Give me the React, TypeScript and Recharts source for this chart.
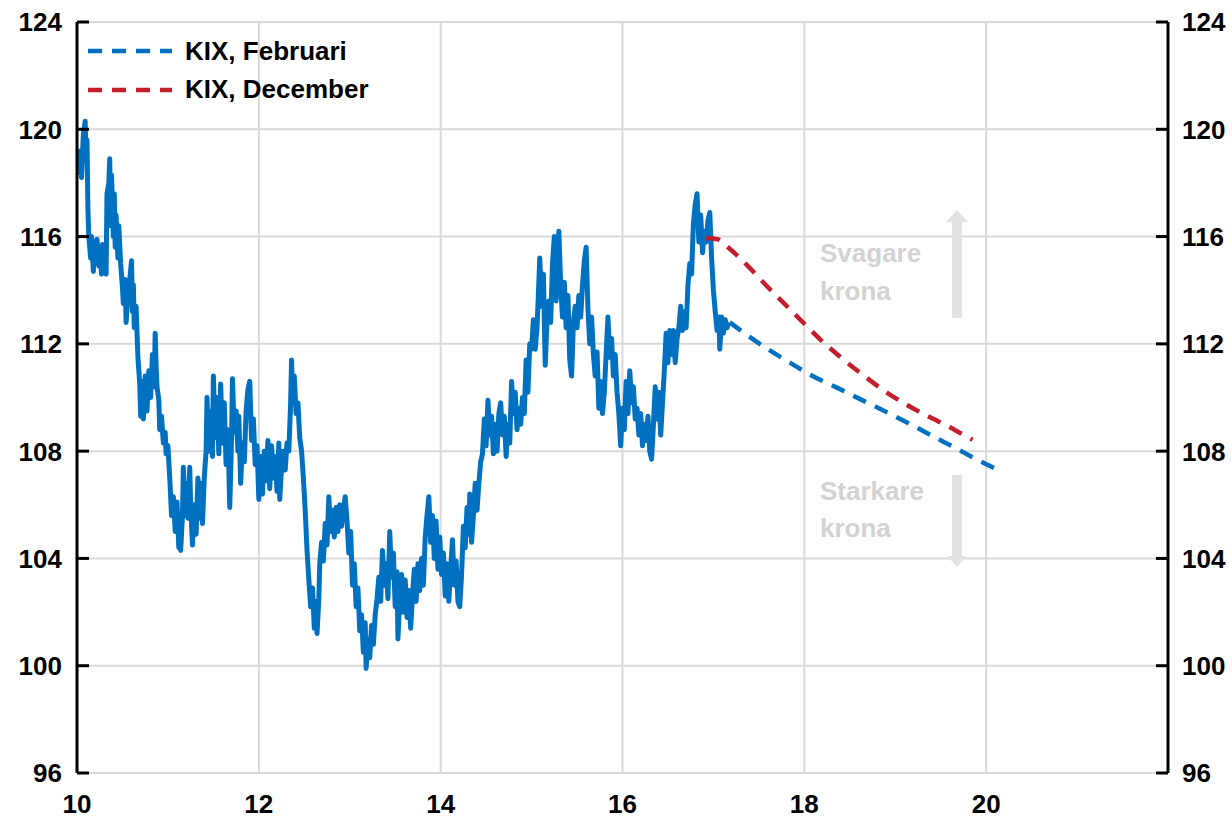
import React from "react";
import { LineChart, Line, XAxis, YAxis, CartesianGrid } from "recharts";

const FONT = '"Liberation Sans", Arial, sans-serif';
const BLUE = "#0070C0";
const RED = "#C21E2B";

// KIX history (year, index)
const kix2010: [number, number][] = [
  [10.02, 118.3], [10.04, 119.2], [10.05, 118.2], [10.07, 119.8], [10.09, 120.3], [10.10, 118.8], [10.11, 119.6], [10.12, 117.0], [10.13, 116.0], [10.15, 115.2], [10.16, 116.0], [10.18, 114.7], [10.19, 115.8], [10.21, 115.0], [10.22, 115.9], [10.24, 114.9], [10.25, 115.5], [10.27, 114.6], [10.28, 115.7], [10.30, 115.0], [10.32, 114.6], [10.33, 117.6], [10.35, 118.0], [10.36, 118.9], [10.37, 116.4], [10.38, 118.3], [10.40, 116.0], [10.41, 117.6], [10.42, 115.6], [10.43, 116.8], [10.45, 115.2], [10.46, 116.4], [10.48, 115.0], [10.50, 114.1], [10.51, 113.5], [10.53, 114.4], [10.54, 112.8], [10.56, 113.8], [10.58, 114.4], [10.60, 115.1], [10.61, 113.2], [10.62, 114.2], [10.63, 112.6], [10.65, 113.4], [10.67, 111.5], [10.69, 110.5], [10.70, 109.3], [10.72, 110.6], [10.73, 109.2], [10.75, 110.8], [10.77, 109.5], [10.79, 111.0], [10.81, 110.0], [10.83, 111.6], [10.85, 110.4], [10.86, 112.4], [10.87, 111.2], [10.88, 110.4], [10.90, 109.9], [10.91, 108.8], [10.93, 109.3], [10.95, 108.3], [10.97, 108.7], [10.98, 107.9],
];
const kix2011: [number, number][] = [
  [11.00, 108.2], [11.02, 107.0], [11.04, 105.6], [11.06, 106.3], [11.08, 105.0], [11.10, 106.1], [11.12, 104.4], [11.13, 105.3], [11.14, 104.3], [11.16, 105.6], [11.17, 107.4], [11.19, 105.6], [11.20, 106.8], [11.22, 105.5], [11.24, 107.4], [11.25, 106.0], [11.27, 104.5], [11.29, 106.0], [11.31, 104.9], [11.33, 107.0], [11.34, 105.5], [11.36, 106.8], [11.38, 105.3], [11.40, 107.0], [11.42, 108.0], [11.43, 110.0], [11.45, 108.0], [11.47, 109.5], [11.49, 107.8], [11.50, 110.8], [11.52, 108.5], [11.54, 110.0], [11.56, 107.9], [11.58, 110.5], [11.60, 108.3], [11.62, 109.8], [11.64, 107.5], [11.66, 108.8], [11.68, 105.9], [11.70, 108.5], [11.71, 110.7], [11.73, 108.7], [11.75, 109.5], [11.77, 108.0], [11.78, 109.3], [11.80, 106.8], [11.82, 108.3], [11.84, 107.6], [11.86, 109.5], [11.88, 110.3], [11.90, 110.6], [11.92, 108.4], [11.94, 109.2], [11.96, 107.5], [11.98, 108.2],
];
const kix2012: [number, number][] = [
  [12.00, 106.2], [12.02, 107.8], [12.04, 106.4], [12.06, 108.0], [12.08, 106.9], [12.10, 108.4], [12.12, 106.6], [12.14, 108.2], [12.16, 107.0], [12.18, 107.8], [12.20, 106.5], [12.22, 108.3], [12.23, 106.2], [12.25, 107.4], [12.27, 108.0], [12.29, 107.3], [12.31, 108.3], [12.33, 108.0], [12.35, 109.8], [12.36, 111.4], [12.37, 110.2], [12.39, 110.8], [12.41, 109.4], [12.43, 109.8], [12.45, 108.5], [12.47, 108.0], [12.49, 107.0], [12.51, 105.8], [12.53, 104.3], [12.55, 103.2], [12.57, 102.2], [12.59, 102.9], [12.61, 101.4], [12.63, 102.4], [12.64, 101.2], [12.66, 102.5], [12.67, 103.8], [12.69, 104.6], [12.71, 103.9], [12.73, 105.3], [12.75, 104.5], [12.77, 106.3], [12.79, 105.0], [12.81, 105.8], [12.83, 104.8], [12.85, 105.9], [12.87, 105.0], [12.89, 106.0], [12.91, 105.2], [12.93, 105.8], [12.95, 106.3], [12.97, 105.4], [12.99, 104.2],
];
const kix2013: [number, number][] = [
  [13.01, 105.0], [13.03, 103.0], [13.05, 103.8], [13.07, 102.2], [13.09, 102.9], [13.11, 101.3], [13.13, 101.9], [13.15, 100.5], [13.17, 101.6], [13.18, 99.9], [13.20, 101.0], [13.22, 100.3], [13.24, 101.5], [13.26, 100.8], [13.28, 101.9], [13.30, 102.5], [13.32, 103.3], [13.34, 102.4], [13.36, 104.3], [13.38, 103.0], [13.40, 103.8], [13.42, 102.5], [13.44, 105.0], [13.46, 103.3], [13.48, 104.2], [13.50, 102.2], [13.52, 103.5], [13.53, 101.0], [13.55, 102.5], [13.57, 103.4], [13.59, 102.0], [13.61, 103.2], [13.63, 101.8], [13.65, 102.8], [13.67, 101.4], [13.69, 102.6], [13.71, 103.6], [13.73, 102.4], [13.75, 103.8], [13.77, 102.8], [13.79, 104.0], [13.81, 103.0], [13.83, 104.8], [13.85, 105.6], [13.87, 106.3], [13.89, 104.6], [13.91, 105.6], [13.93, 104.0], [13.95, 105.4], [13.97, 103.6], [13.99, 104.8],
];
const kix2014: [number, number][] = [
  [14.01, 103.4], [14.03, 104.2], [14.05, 102.6], [14.07, 103.8], [14.09, 102.4], [14.11, 103.6], [14.13, 104.7], [14.15, 103.0], [14.17, 103.9], [14.19, 102.4], [14.21, 102.2], [14.23, 103.4], [14.25, 105.2], [14.27, 104.4], [14.29, 105.9], [14.31, 104.9], [14.32, 106.4], [14.34, 104.6], [14.36, 105.6], [14.38, 106.8], [14.40, 105.8], [14.42, 106.8], [14.44, 107.6], [14.46, 107.9], [14.48, 109.2], [14.50, 108.2], [14.52, 109.9], [14.54, 108.6], [14.56, 109.3], [14.58, 107.9], [14.60, 109.0], [14.62, 108.0], [14.64, 109.4], [14.66, 109.8], [14.68, 108.6], [14.70, 109.3], [14.72, 107.8], [14.74, 109.0], [14.76, 108.3], [14.78, 110.6], [14.80, 109.4], [14.82, 110.2], [14.84, 108.8], [14.86, 109.6], [14.88, 109.0], [14.90, 110.0], [14.92, 109.4], [14.94, 111.4], [14.96, 110.2], [14.98, 112.0],
];
const kix2015: [number, number][] = [
  [15.00, 111.8], [15.02, 112.9], [15.04, 111.8], [15.06, 112.6], [15.08, 114.3], [15.09, 115.2], [15.11, 113.4], [15.13, 114.6], [15.15, 111.2], [15.17, 112.9], [15.19, 113.6], [15.21, 112.8], [15.23, 115.0], [15.25, 116.0], [15.27, 113.6], [15.29, 115.2], [15.30, 116.2], [15.32, 114.2], [15.34, 113.0], [15.36, 114.3], [15.38, 112.6], [15.40, 113.8], [15.42, 111.4], [15.44, 110.8], [15.46, 112.8], [15.48, 113.4], [15.50, 112.6], [15.52, 113.8], [15.54, 113.0], [15.56, 114.2], [15.58, 115.1], [15.60, 115.6], [15.62, 113.3], [15.64, 112.0], [15.66, 113.0], [15.68, 111.6], [15.70, 110.8], [15.72, 111.7], [15.74, 109.6], [15.76, 110.6], [15.78, 109.4], [15.80, 110.2], [15.82, 111.6], [15.84, 113.0], [15.86, 111.5], [15.88, 112.2], [15.90, 110.8], [15.92, 111.6], [15.94, 110.2], [15.96, 109.4], [15.98, 108.2],
];
const kix2016: [number, number][] = [
  [16.00, 109.6], [16.02, 108.8], [16.04, 110.6], [16.06, 109.4], [16.08, 111.0], [16.10, 109.8], [16.12, 110.4], [16.14, 109.2], [16.16, 109.6], [16.18, 108.6], [16.20, 109.4], [16.22, 108.2], [16.24, 109.0], [16.26, 108.4], [16.28, 109.3], [16.30, 108.0], [16.32, 107.7], [16.34, 109.0], [16.36, 110.4], [16.38, 109.2], [16.40, 110.2], [16.42, 108.6], [16.44, 109.8], [16.46, 111.0], [16.48, 112.4], [16.50, 111.3], [16.52, 112.5], [16.54, 111.6], [16.56, 112.5], [16.58, 111.3], [16.60, 112.2], [16.62, 112.6], [16.64, 113.4], [16.66, 112.5], [16.68, 113.2], [16.70, 112.6], [16.72, 114.2], [16.74, 115.0], [16.76, 114.6], [16.78, 116.5], [16.80, 117.2], [16.82, 117.6], [16.84, 115.8], [16.86, 116.8], [16.88, 115.4], [16.90, 116.2], [16.92, 115.8], [16.94, 116.6], [16.96, 116.9], [16.98, 115.2],
];
const kix2017: [number, number][] = [
  [17.00, 114.0], [17.02, 113.2], [17.04, 112.5], [17.06, 113.0], [17.07, 111.8], [17.09, 113.0], [17.11, 112.4], [17.13, 112.9], [17.15, 112.6], [17.17, 112.8],
];

// Forecasts
const febYears = [17.18, 17.34, 17.60, 17.85, 18.09, 18.37, 18.62, 18.88, 19.14, 19.39, 19.67, 19.92, 20.10];
const febValues = [112.8, 112.4, 111.8, 111.28, 110.8, 110.35, 109.93, 109.5, 109.05, 108.6, 108.1, 107.65, 107.35];
const decYears = [16.92, 17.05, 17.16, 17.38, 17.56, 17.78, 18.0, 18.18, 18.40, 18.66, 18.88, 19.14, 19.39, 19.65, 19.85];
const decValues = [115.95, 115.9, 115.6, 114.9, 114.25, 113.5, 112.75, 112.15, 111.5, 110.8, 110.25, 109.7, 109.25, 108.8, 108.42];

const xTicks = [10, 12, 14, 16, 18, 20];
const yTicks = [96, 100, 104, 108, 112, 116, 120, 124];
const legendLabels = ["KIX, Februari", "KIX, December"];
const noteWeak = ["Svagare", "krona"];
const noteStrong = ["Starkare", "krona"];

const history = [...kix2010, ...kix2011, ...kix2012, ...kix2013, ...kix2014, ...kix2015, ...kix2016, ...kix2017].map(
  ([t, v]) => ({ t, v })
);
const febData = febYears.map((t, i) => ({ t, v: febValues[i] }));
const decData = decYears.map((t, i) => ({ t, v: decValues[i] }));

const labelStyle = { fontFamily: FONT, fontSize: 26, fontWeight: 700, fill: "#000" };

const LeftTick = (props: any) => {
  const { x, y, payload } = props;
  return (
    <g>
      <line x1={x + 15} x2={x + 27} y1={y} y2={y} stroke="#000" strokeWidth={3} />
      <text x={x} y={y} dy="0.36em" textAnchor="end" style={labelStyle}>
        {payload.value}
      </text>
    </g>
  );
};

const RightTick = (props: any) => {
  const { x, y, payload } = props;
  return (
    <g>
      <line x1={x - 14} x2={x - 26} y1={y} y2={y} stroke="#000" strokeWidth={3} />
      <text x={x} y={y} dy="0.36em" textAnchor="start" style={labelStyle}>
        {payload.value}
      </text>
    </g>
  );
};

export default function App() {
  return (
    <div style={{ position: "absolute", left: 0, top: 0, width: 1232, height: 824, background: "#fff" }}>
      <LineChart width={1232} height={824} margin={{ top: 22, right: 0, bottom: 0, left: 0 }}>
        <CartesianGrid yAxisId="left" stroke="#d9d9d9" strokeWidth={2} />
        <XAxis
          dataKey="t"
          type="number"
          domain={[10, 22]}
          ticks={xTicks}
          allowDataOverflow
          axisLine={false}
          tickLine={false}
          tickSize={0}
          tickMargin={22}
          height={51}
          tick={labelStyle}
          interval={0}
        />
        <YAxis
          yAxisId="left"
          orientation="left"
          type="number"
          domain={[96, 124]}
          ticks={yTicks}
          allowDataOverflow
          width={77}
          axisLine={{ stroke: "#000", strokeWidth: 3 }}
          tickLine={false}
          tickSize={0}
          tickMargin={15}
          tick={<LeftTick />}
          interval={0}
        />
        <YAxis
          yAxisId="right"
          orientation="right"
          type="number"
          domain={[96, 124]}
          ticks={yTicks}
          allowDataOverflow
          width={64}
          axisLine={{ stroke: "#000", strokeWidth: 3 }}
          tickLine={false}
          tickSize={0}
          tickMargin={14}
          tick={<RightTick />}
          interval={0}
        />
        <Line
          yAxisId="left"
          data={history}
          dataKey="v"
          stroke={BLUE}
          strokeWidth={5}
          strokeLinejoin="round"
          dot={false}
          isAnimationActive={false}
        />
        <Line
          yAxisId="left"
          type="monotone"
          data={decData}
          dataKey="v"
          stroke={RED}
          strokeWidth={4.5}
          strokeDasharray="14 10"
          dot={false}
          isAnimationActive={false}
        />
        <Line
          yAxisId="left"
          type="monotone"
          data={febData}
          dataKey="v"
          stroke={BLUE}
          strokeWidth={4.5}
          strokeDasharray="14 10"
          dot={false}
          isAnimationActive={false}
        />
      </LineChart>
      <svg
        width={1232}
        height={824}
        style={{ position: "absolute", left: 0, top: 0, pointerEvents: "none" }}
      >
        {/* legend */}
        <line x1={88} x2={172} y1={51} y2={51} stroke={BLUE} strokeWidth={4.5} strokeDasharray="14 10" />
        <text x={185} y={60} style={labelStyle}>{legendLabels[0]}</text>
        <line x1={88} x2={172} y1={90} y2={90} stroke={RED} strokeWidth={4.5} strokeDasharray="14 10" />
        <text x={185} y={98} style={labelStyle}>{legendLabels[1]}</text>
        {/* annotations */}
        <rect x={952} y={221} width={10} height={97} fill="#e2e2e2" />
        <polygon points="946,222 957,210 968,222" fill="#e2e2e2" />
        <text x={820} y={262} style={{ ...labelStyle, fill: "#d2d2d2" }}>{noteWeak[0]}</text>
        <text x={820} y={300} style={{ ...labelStyle, fill: "#d2d2d2" }}>{noteWeak[1]}</text>
        <rect x={952} y={475} width={10} height={82} fill="#e2e2e2" />
        <polygon points="947,556 957,567 967,556" fill="#e2e2e2" />
        <text x={820} y={500} style={{ ...labelStyle, fill: "#d2d2d2" }}>{noteStrong[0]}</text>
        <text x={820} y={537} style={{ ...labelStyle, fill: "#d2d2d2" }}>{noteStrong[1]}</text>
      </svg>
    </div>
  );
}
